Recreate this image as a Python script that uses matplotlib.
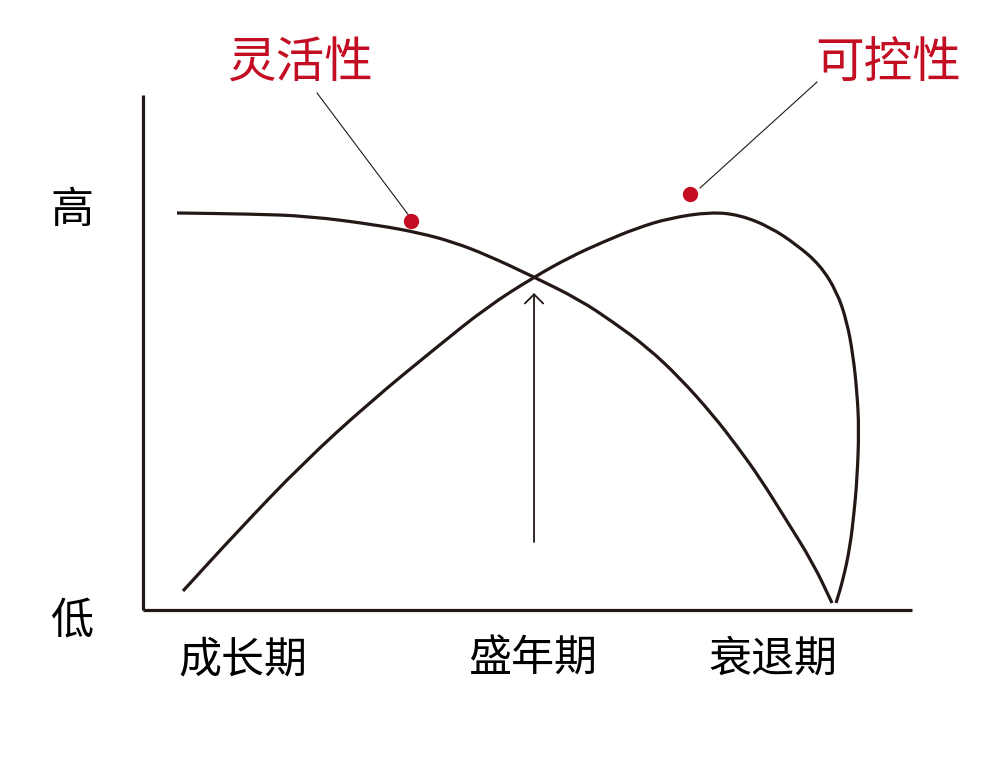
import matplotlib
matplotlib.use("Agg")
import matplotlib.pyplot as plt
from matplotlib.path import Path
from matplotlib.patches import PathPatch

plt.rcParams['font.family'] = ['Noto Sans CJK SC', 'DejaVu Sans']

# ---- data (normalised 0..100 on both axes) ----
flex_x = [4.42, 13.91, 21.46, 30.43, 36.02, 40.31, 44.73, 50.85, 56.83, 61.12,
          65.54, 69.83, 74.12, 77.24, 80.23, 83.49, 87.13, 89.60]
flex_y = [77.09, 76.89, 76.50, 74.76, 73.20, 71.46, 68.93, 64.66, 60.19, 55.92,
          51.07, 45.05, 37.86, 31.84, 25.63, 17.86, 9.13, 1.36]

ctrl_x = [5.20, 12.22, 20.81, 29.52, 38.23, 44.73, 50.85, 55.53, 59.82, 64.24,
          68.53, 73.86, 77.63, 81.53, 85.05, 88.04, 90.25, 91.55, 92.33, 92.85,
          93.11, 92.85, 92.46, 91.94, 91.03, 90.12]
ctrl_y = [3.69, 15.15, 28.54, 40.39, 51.07, 58.83, 64.66, 68.54, 71.46, 74.17,
          76.12, 77.28, 76.70, 74.37, 70.87, 66.99, 61.75, 55.92, 49.51, 42.33,
          34.95, 25.24, 18.83, 12.23, 5.83, 1.36]

y_labels = ['高', '低']
y_label_pos = [77.48, -2.33]
stage_labels = ['成长期', '盛年期', '衰退期']
stage_pos = [13.0, 50.7, 81.9]

series_names = ['灵活性', '可控性']
name_pos = [(20.42, 106.2), (96.9, 106.2)]
dot_pos = [(34.85, 75.53), (71.13, 80.78)]
leader_start = [(22.63, 100.39), (87.65, 102.52)]
leader_end = [(34.72, 76.31), (72.43, 81.94)]

arrow_x = 50.85
arrow_y0, arrow_y1 = 13.20, 61.55

INK = '#231815'
RED = '#C30D23'


def smooth_path(xs, ys):
    """Quadratic Bezier path using the read points as control points."""
    pts = list(zip(xs, ys))
    verts = [pts[0]]
    codes = [Path.MOVETO]
    mid = lambda a, b: ((a[0] + b[0]) / 2, (a[1] + b[1]) / 2)
    verts.append(mid(pts[0], pts[1]))
    codes.append(Path.LINETO)
    for i in range(1, len(pts) - 1):
        verts += [pts[i], mid(pts[i], pts[i + 1])]
        codes += [Path.CURVE3, Path.CURVE3]
    verts.append(pts[-1])
    codes.append(Path.LINETO)
    return Path(verts, codes)


fig = plt.figure(figsize=(10, 7.59), dpi=100)
ax = fig.add_axes([143/1000, (759-610)/759, 769/1000, 515/759])
ax.set_xlim(0, 100)
ax.set_ylim(0, 100)
for s in ['top', 'right']:
    ax.spines[s].set_visible(False)
for s in ['left', 'bottom']:
    ax.spines[s].set_color(INK)
    ax.spines[s].set_linewidth(2.3)
    ax.spines[s].set_capstyle('butt')
ax.set_xticks([])
ax.set_yticks([])

for xs, ys in [(flex_x, flex_y), (ctrl_x, ctrl_y)]:
    ax.add_patch(PathPatch(smooth_path(xs, ys), facecolor='none', edgecolor=INK,
                           lw=2.3, capstyle='butt', joinstyle='round',
                           clip_on=False))

ax.annotate('', xy=(arrow_x, arrow_y1), xytext=(arrow_x, arrow_y0),
            arrowprops=dict(arrowstyle='->,head_length=0.3,head_width=0.3',
                            color=INK, lw=1.3, mutation_scale=22,
                            shrinkA=0, shrinkB=0))

for (x0, y0), (x1, y1) in zip(leader_start, leader_end):
    ax.plot([x0, x1], [y0, y1], color=INK, lw=0.8, clip_on=False)
for (x, y) in dot_pos:
    ax.plot([x], [y], 'o', color=RED, ms=11, mec='none', clip_on=False, zorder=5)

for name, (x, y) in zip(series_names, name_pos):
    ax.text(x, y, name, color=RED, fontsize=35, ha='center', va='center',
            clip_on=False)

for lab, y in zip(y_labels, y_label_pos):
    ax.text(-9.23, y, lab, color='black', fontsize=31, ha='center', va='center',
            clip_on=False)
for lab, x in zip(stage_labels, stage_pos):
    ax.text(x, -9.71, lab, color='black', fontsize=31, ha='center', va='center',
            clip_on=False)

fig.savefig('out.png', dpi=100, facecolor='white')
